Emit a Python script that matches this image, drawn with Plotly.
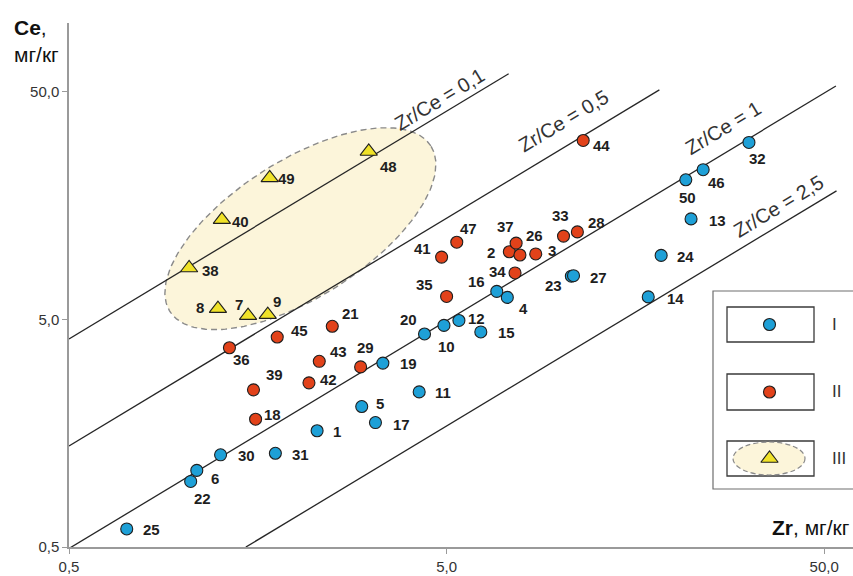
import math
import numpy as np
import plotly.graph_objects as go

# ---------------- data ----------------
grp1_ids = [1, 4, 5, 6, 10, 11, 12, 13, 14, 15, 16, 17, 19, 20, 22, 23, 24, 25, 27, 30, 31, 32, 46, 50]
grp1_zr = [2.27, 7.24, 2.98, 1.09, 4.92, 4.23, 5.39, 22.2, 17.1, 6.16, 6.79, 3.24, 3.39, 4.37, 1.05, 10.7,
           18.5, 0.711, 10.84, 1.26, 1.76, 31.6, 23.9, 21.5]
grp1_ce = [1.62, 6.24, 2.07, 1.085, 4.70, 2.40, 4.94, 13.8, 6.27, 4.40, 6.63, 1.76, 3.21, 4.31, 0.97, 7.73,
           9.54, 0.60, 7.77, 1.27, 1.29, 29.9, 22.7, 20.5]

grp2_ids = [2, 3, 18, 21, 26, 28, 29, 33, 34, 35, 36, 37, 39, 41, 42, 43, 44, 45, 47]
grp2_zr = [7.33, 8.61, 1.56, 2.49, 7.82, 11.1, 2.96, 10.2, 7.59, 5.00, 1.33, 7.64, 1.54, 4.85, 2.16, 2.30,
           11.5, 1.78, 5.32]
grp2_ce = [9.90, 9.68, 1.82, 4.66, 9.58, 12.1, 3.09, 11.6, 7.99, 6.30, 3.75, 10.8, 2.45, 9.38, 2.63, 3.27,
           30.5, 4.18, 10.9]

grp3_ids = [7, 8, 9, 38, 40, 48, 49]
grp3_zr = [1.49, 1.24, 1.68, 1.04, 1.27, 3.11, 1.70]
grp3_ce = [5.19, 5.57, 5.24, 8.40, 13.7, 27.3, 20.9]

# reference lines Zr/Ce (as drawn in the picture)
line_labels = ["Zr/Ce = 0,1", "Zr/Ce = 0,5", "Zr/Ce = 1", "Zr/Ce = 2,5"]
line_ce_per_zr = [8.2, 2.78, 0.985, 0.34]
line_zr_start = [0.5, 0.5, 0.5, 1.47]
line_zr_end = [7.3, 18.3, 53.7, 53.9]
line_label_zr = [4.95, 10.5, 27.8, 39.1]
line_label_ce = [42.1, 33.7, 31.4, 14.25]

# field III ellipse: centre (data) and semi-axes in screen pixels
ell_center_zr, ell_center_ce = 2.05, 12.5
ell_a_px, ell_b_px, ell_angle_deg = 154.5, 68.5, 32.4

tick_vals = [0.5, 5, 50]
tick_text = ["0,5", "5,0", "50,0"]
legend_names = ["I", "II", "III"]

# ---------------- styling ----------------
W, H = 853, 576
ML, MR, MT, MB = 69, 0, 23, 29
PW, PH = W - ML - MR, H - MT - MB
XR = [math.log10(0.5), math.log10(0.5) + PW / 377.6]
YR = [math.log10(0.5), math.log10(0.5) + PH / 227.7]
XPX = PW / (XR[1] - XR[0])
YPX = PH / (YR[1] - YR[0])

FONT = "Liberation Sans, Arial, sans-serif"
BLUE = "rgb(30,160,215)"
RED = "rgb(226,66,26)"
YEL = "rgb(240,226,40)"
CREAM = "rgb(252,245,218)"
EDGE = "#1e1e1e"

label_offsets = {
    1: (20, 1), 4: (16, 11), 5: (18, -3), 6: (18, 8), 10: (3, 21), 11: (24, 1), 12: (18, -2), 13: (26, 2),
    14: (27, 2), 15: (26, 1), 16: (-20, -10), 17: (26, 2), 19: (26, 0), 20: (-16, -14), 22: (12, 17),
    23: (-18, 9), 24: (24, 1), 25: (25, 1), 27: (25, 2), 30: (26, 1), 31: (25, 1), 32: (9, 16),
    46: (13, 13), 50: (2, 18),
    2: (-18, 1), 3: (16, -3), 26: (15, -20), 18: (17, -5), 21: (18, -13), 28: (19, -9), 29: (5, -19),
    33: (-3, -21), 34: (-18, -1), 35: (-22, -12), 36: (12, 12), 37: (-11, -17), 39: (21, -15),
    41: (-19, -9), 42: (20, -3), 43: (19, -10), 44: (18, 5), 45: (22, -7), 47: (12, -14),
    7: (-9, -11), 8: (-18, -1), 9: (9, -13), 38: (21, 2), 40: (19, 2), 48: (20, 15), 49: (17, 1),
}

fig = go.Figure()

# ellipse for field III
t = np.linspace(0, 2 * np.pi, 200)
th = math.radians(ell_angle_deg)
dx = ell_a_px * np.cos(th) * np.cos(t) - ell_b_px * np.sin(th) * np.sin(t)
dy = ell_a_px * np.sin(th) * np.cos(t) + ell_b_px * np.cos(th) * np.sin(t)
ex = 10 ** (math.log10(ell_center_zr) + dx / XPX)
ey = 10 ** (math.log10(ell_center_ce) + dy / YPX)
fig.add_trace(go.Scatter(x=ex, y=ey, mode="lines", fill="toself", fillcolor=CREAM,
                         line=dict(color="#8a8a8a", width=1.4, dash="6px,4px"),
                         hoverinfo="skip", showlegend=False))

# reference lines
for k, z0, z1 in zip(line_ce_per_zr, line_zr_start, line_zr_end):
    fig.add_trace(go.Scatter(x=[z0, z1], y=[z0 * k, z1 * k], mode="lines",
                             line=dict(color="#262626", width=1.3), hoverinfo="skip", showlegend=False))

# points
def add_pts(zr, ce, color, symbol, size):
    fig.add_trace(go.Scatter(x=zr, y=ce, mode="markers", showlegend=False,
                             marker=dict(color=color, symbol=symbol, size=size,
                                         line=dict(color=EDGE, width=1.1))))

add_pts(grp1_zr, grp1_ce, BLUE, "circle", 12)
add_pts(grp2_zr, grp2_ce, RED, "circle", 12)
add_pts(grp3_zr, grp3_ce, YEL, "triangle-up", 15)

annotations = []
for ids, zr, ce in [(grp1_ids, grp1_zr, grp1_ce), (grp2_ids, grp2_zr, grp2_ce), (grp3_ids, grp3_zr, grp3_ce)]:
    for i, z, c in zip(ids, zr, ce):
        ox, oy = label_offsets[i]
        annotations.append(dict(x=math.log10(z), y=math.log10(c), xref="x", yref="y", text=str(i),
                                showarrow=False, xshift=ox, yshift=-oy,
                                font=dict(family=FONT, size=15, color="#1e1e1e", weight="bold")))

for lab, z, c in zip(line_labels, line_label_zr, line_label_ce):
    annotations.append(dict(x=math.log10(z), y=math.log10(c), xref="x", yref="y", text=lab,
                            showarrow=False, textangle=-31, xshift=-5, yshift=10,
                            font=dict(family=FONT, size=20, color="#333333")))

# axis titles
annotations.append(dict(x=(12 - ML) / PW, y=(H - MB - 28) / PH, xref="paper", yref="paper",
                        xanchor="left", yanchor="middle", text="<b>Ce</b>,", showarrow=False,
                        font=dict(family=FONT, size=21, color="#111")))
annotations.append(dict(x=(12 - ML) / PW, y=(H - MB - 54) / PH, xref="paper", yref="paper",
                        xanchor="left", yanchor="middle", text="мг/кг", showarrow=False,
                        font=dict(family=FONT, size=21, color="#111")))
annotations.append(dict(x=(852 - ML) / PW, y=(H - MB - 527) / PH, xref="paper", yref="paper",
                        xanchor="right", yanchor="middle", text="<b>Zr</b>, мг/кг", showarrow=False,
                        font=dict(family=FONT, size=21, color="#111")))

# legend (drawn as in the reference)
def px2paper(px, py):
    return (px - ML) / PW, (H - MB - py) / PH

shapes = []
x0, y1 = px2paper(713, 291)
x1, y0 = px2paper(900, 489)
shapes.append(dict(type="rect", xref="paper", yref="paper", x0=x0, x1=x1, y0=y0, y1=y1,
                   line=dict(color="#6e6e6e", width=1.2), fillcolor="white", layer="below"))
rows = [(307, 342), (374, 410), (441, 476)]
for (ya, yb) in rows:
    a0, b1 = px2paper(727, ya)
    a1, b0 = px2paper(814, yb)
    shapes.append(dict(type="rect", xref="paper", yref="paper", x0=a0, x1=a1, y0=b0, y1=b1,
                       line=dict(color="#3a3a3a", width=1.3), fillcolor="white", layer="below"))
e0, f1 = px2paper(733, 442)
e1, f0 = px2paper(805, 475)
shapes.append(dict(type="circle", xref="paper", yref="paper", x0=e0, x1=e1, y0=f0, y1=f1,
                   line=dict(color="#8a8a8a", width=1.2, dash="5px,3px"), fillcolor=CREAM, layer="below"))

leg_x = [px2paper(769.5, 0)[0]] * 3
leg_y = [px2paper(0, (ya + yb) / 2)[1] for ya, yb in rows]
leg_colors = [BLUE, RED, YEL]
leg_symbols = ["circle", "circle", "triangle-up"]
leg_sizes = [12, 12, 15]
for lx, ly, col, sym, sz in zip(leg_x, leg_y, leg_colors, leg_symbols, leg_sizes):
    fig.add_trace(go.Scatter(x=[lx], y=[ly], xaxis="x2", yaxis="y2", mode="markers", showlegend=False,
                             marker=dict(color=col, symbol=sym, size=sz, line=dict(color=EDGE, width=1.1)),
                             hoverinfo="skip"))
for name, ly in zip(legend_names, leg_y):
    annotations.append(dict(x=px2paper(830, 0)[0], y=ly, xref="paper", yref="paper", xanchor="left",
                            yanchor="middle", text=name, showarrow=False,
                            font=dict(family=FONT, size=17, color="#333")))

fig.update_layout(
    width=W, height=H, margin=dict(l=ML, r=MR, t=MT, b=MB),
    paper_bgcolor="white", plot_bgcolor="white",
    font=dict(family=FONT, size=15, color="#333"),
    xaxis=dict(type="log", range=XR, tickvals=tick_vals, ticktext=tick_text, showgrid=False,
               zeroline=False, showline=True, linecolor="#9a9a9a", linewidth=1.5, ticks="outside",
               ticklen=5, tickcolor="#9a9a9a", tickfont=dict(size=15, color="#333")),
    yaxis=dict(type="log", range=YR, tickvals=tick_vals, ticktext=tick_text, showgrid=False,
               zeroline=False, showline=True, linecolor="#9a9a9a", linewidth=1.5, ticks="outside",
               ticklen=5, tickcolor="#9a9a9a", tickfont=dict(size=15, color="#333")),
    xaxis2=dict(overlaying="x", range=[0, 1], visible=False, anchor="y2"),
    yaxis2=dict(overlaying="y", range=[0, 1], visible=False, anchor="x2"),
    annotations=annotations, shapes=shapes, showlegend=False,
)

fig.write_html("out.html", config={"displayModeBar": False},
               post_script="document.body.style.margin='0';document.body.style.overflow='hidden';")
